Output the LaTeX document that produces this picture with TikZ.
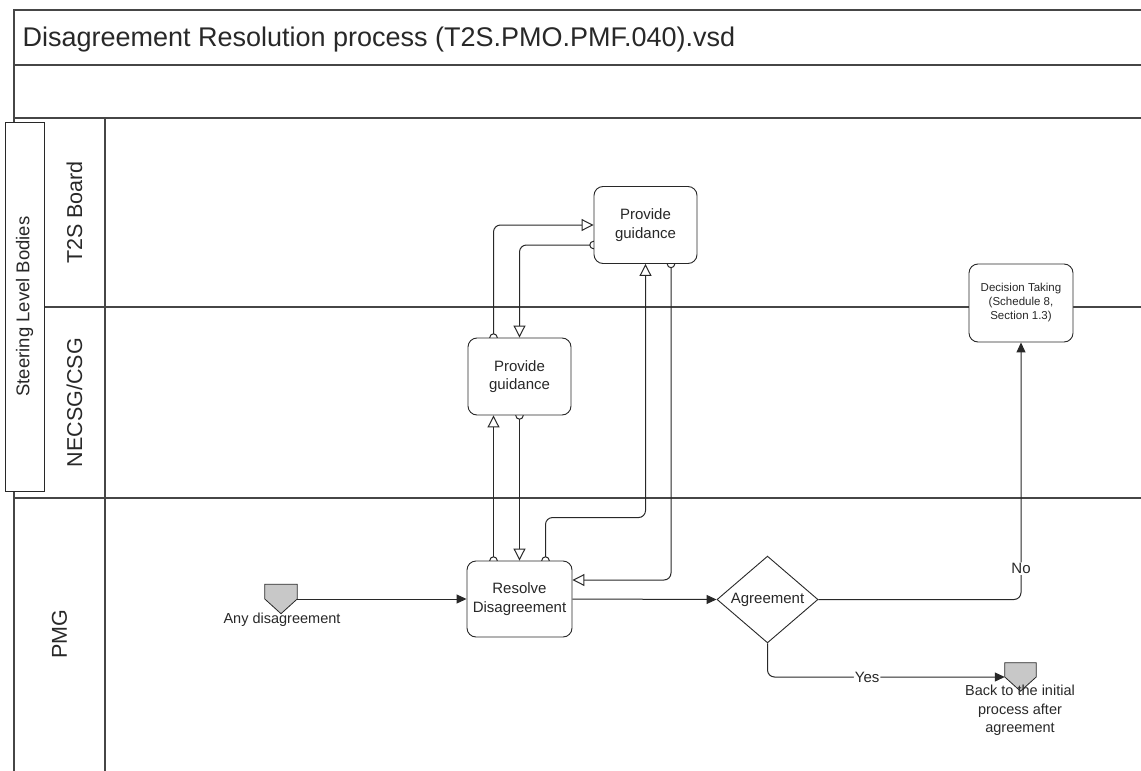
\documentclass[tikz,border=0pt]{standalone}
\usepackage{fontspec}
\setmainfont{Liberation Sans}
\usepackage{tikz}
\usetikzlibrary{shapes.geometric,arrows.meta}
\pgfdeclarelayer{bg}
\pgfsetlayers{bg,main}
\definecolor{inkgray}{RGB}{40,40,40}
\definecolor{framegray}{RGB}{70,70,70}
\definecolor{markgray}{RGB}{200,200,200}

\begin{document}
\begin{tikzpicture}[x=1pt,y=-1pt,
	lane/.style={draw=framegray,line width=1.3pt},
	task/.style={shape=rectangle,rounded corners=9pt,draw=inkgray,fill=white,line width=0.9pt,minimum width=103pt,minimum height=77pt,inner sep=2pt,align=center,text=inkgray,font=\fontsize{15pt}{18.5pt}\selectfont},
	gate/.style={shape=diamond,draw=inkgray,fill=white,line width=0.9pt,minimum width=101pt,minimum height=67pt,inner sep=0pt,text=inkgray,font=\fontsize{15pt}{18pt}\selectfont},
	pagenode/.style={shape=rectangle,minimum width=32pt,minimum height=29pt,inner sep=0pt},
	pagemark/.style={draw=inkgray,fill=markgray,line width=0.8pt},
	plain/.style={inner sep=0pt,align=center,text=inkgray,font=\fontsize{14.5pt}{18.5pt}\selectfont},
	lanelabel/.style={rotate=90,text=inkgray,font=\fontsize{21.5pt}{26pt}\selectfont},
	flow/.style={draw=inkgray,line width=1pt,rounded corners=7pt},
	seq/.style={flow,-{Triangle[length=10pt,width=9pt]}},
	msg/.style={flow,{Circle[open,length=8.5pt]}-{Triangle[open,length=12pt,width=12pt]},shorten <=-4.25pt},
	cut/.style={fill=white,inner sep=1pt,text=inkgray,font=\fontsize{15pt}{18pt}\selectfont}]
	\useasboundingbox (0,0) rectangle (1141,771);

	\node[anchor=base west,text=inkgray,font=\fontsize{27pt}{32pt}\selectfont] (title) at (19,46) {Disagreement Resolution process (T2S.PMO.PMF.040).vsd};

	\node[shape=rectangle,draw=inkgray,fill=white,line width=0.9pt,rotate=90,minimum width=369pt,minimum height=39pt,inner sep=0pt,text=inkgray,font=\fontsize{18.5pt}{22pt}\selectfont] (steering) at (24.5,306.5) {Steering Level Bodies};
	\node[lanelabel] (t2s) at (74.5,212.5) {T2S Board};
	\node[lanelabel] (necsg) at (74.5,402.5) {NECSG/CSG};
	\node[lanelabel] (pmg) at (59.5,634.5) {PMG};

	\node[task] (guideboard) at (645.5,225) {Provide\\guidance};
	\node[task] (guidecsg) at (519.5,376.5) {Provide\\guidance};
	\node[task,minimum width=105pt,minimum height=76pt] (resolve) at (519.5,599) {Resolve\\Disagreement};
	\node[task,minimum width=104pt,minimum height=78pt,font=\fontsize{11.5pt}{14pt}\selectfont] (decision) at (1021,303) {Decision Taking\\(Schedule 8,\\Section 1.3)};
	\node[gate] (agree) at (767.5,599.5) {Agreement};

	\node[pagenode] (start) at (281,599) {};
	\node[pagenode,minimum width=31pt,minimum height=28pt] (back) at (1020.5,677) {};
	\draw[pagemark] (start.north west) -- (start.north east) -- (start.east) -- (start.south) -- (start.west) -- cycle;
	\draw[pagemark] (back.north west) -- (back.north east) -- (back.east) -- (back.south) -- (back.west) -- cycle;
	\node[plain,anchor=base] (startlabel) at (282,623) {Any disagreement};
	\node[plain,anchor=north] (backlabel) at (1020,685) {Back to the initial\\process after\\agreement};

	\begin{pgfonlayer}{bg}
	\draw[lane] (14,771) -- (14,10) -- (1141,10);
	\draw[lane] (14,65) -- (1141,65);
	\draw[lane] (14,118) -- (1141,118);
	\draw[lane] (14,307) -- (1141,307);
	\draw[lane] (14,498) -- (1141,498);
	\draw[lane] (105,118) -- (105,771);

	\path[seq] (start.east) -- (resolve.west);
	\path[seq] (resolve.east) -- (agree.west);
	\path[seq] (agree.east) -| node[cut,pos=0.56]{No} (decision.south);
	\path[seq] (agree.south) |- node[cut,pos=0.71]{Yes} (back.west);

	\path[msg] ([xshift=-26pt]resolve.north) -- ([xshift=-26pt]guidecsg.south);
	\path[msg] (guidecsg.south) -- (resolve.north);
	\path[msg] ([xshift=26pt]resolve.north) -- ++(0,-43) -| (guideboard.south);
	\path[msg] ([xshift=25.5pt]guideboard.south) |- ([yshift=19pt]resolve.east);
	\path[msg] ([xshift=-26pt]guidecsg.north) |- (guideboard.west);
	\path[msg] ([yshift=-20pt]guideboard.west) -| (guidecsg.north);
	\end{pgfonlayer}
\end{tikzpicture}
\end{document}
